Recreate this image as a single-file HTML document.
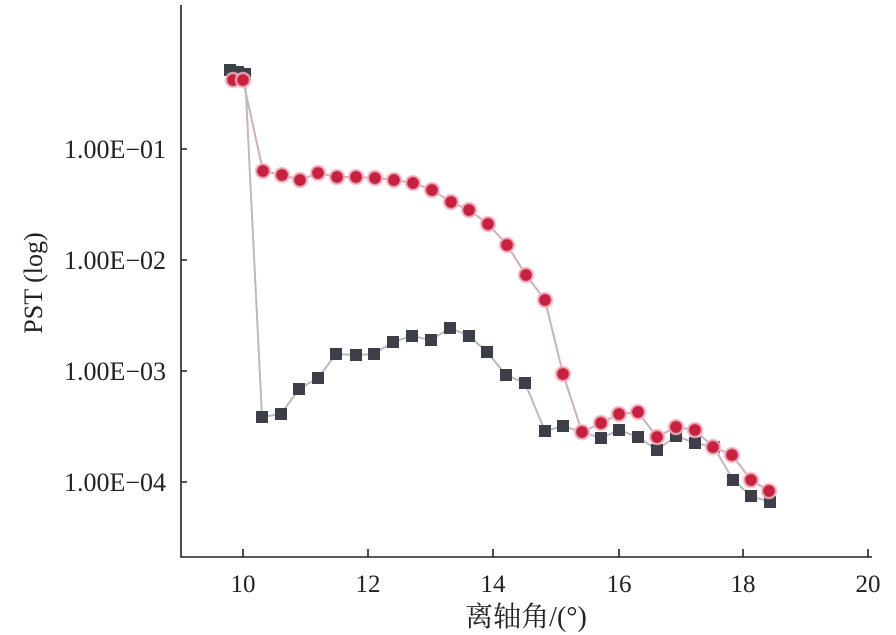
<!DOCTYPE html>
<html><head><meta charset="utf-8"><style>
html,body{margin:0;padding:0;background:#fff;}
svg{display:block;}
text{font-family:"Liberation Serif","Noto Serif CJK SC",serif;fill:#222;}
</style></head><body>
<svg width="896" height="635" viewBox="0 0 896 635" xmlns="http://www.w3.org/2000/svg">
<g stroke="#222" stroke-width="1.6" fill="none">
<path d="M181,5 V557 H872"/>
<path d="M181,149 h6 M181,260 h6 M181,371 h6 M181,482 h6"/>
<path d="M243,557 v-8 M368,557 v-8 M493,557 v-8 M619,557 v-8 M743,557 v-8 M868,557 v-8"/>
</g>
<g font-size="26" text-anchor="end">
<text x="166" y="158">1.00E−01</text>
<text x="166" y="269">1.00E−02</text>
<text x="166" y="380">1.00E−03</text>
<text x="166" y="491">1.00E−04</text>
</g>
<g font-size="25" text-anchor="middle">
<text x="243" y="592">10</text><text x="368" y="592">12</text><text x="493" y="592">14</text>
<text x="619" y="592">16</text><text x="743" y="592">18</text><text x="868" y="592">20</text>
</g>
<text x="526" y="626" font-size="28" text-anchor="middle">离轴角/(°)</text>
<text transform="translate(42,283) rotate(-90)" font-size="26" text-anchor="middle">PST (log)</text>
<polyline fill="none" stroke="#bbb" stroke-width="2" points="230,70 238,72 245,74 262,417 281,414 299,389 318,378 336,354 356,355 374,354 393,342 412,336 431,340 450,328 469,336 487,352 506,375 525,383 545,431 563,426 601,438 619,430 638,437 657,450 676,436 695,443 714,447 733,480 751,496 770,502"/>
<polyline fill="none" stroke="#d0b0b8" stroke-width="2" points="233,80 243,80 263,171 282,175 300,180 318,173 337,177 356,177 375,178 394,180 413,183 432,190 451,202 469,210 488,224 507,245 526,275 545,300 563,374 582,432 601,423 619,414 638,412 657,437 676,427 695,430 713,447 732,455 751,480 769,491"/>
<g fill="#3c3f48">
<rect x="224" y="64" width="12" height="12"/><rect x="232" y="66" width="12" height="12"/><rect x="239" y="68" width="12" height="12"/>
<rect x="256" y="411" width="12" height="12"/><rect x="275" y="408" width="12" height="12"/><rect x="293" y="383" width="12" height="12"/><rect x="312" y="372" width="12" height="12"/><rect x="330" y="348" width="12" height="12"/><rect x="350" y="349" width="12" height="12"/><rect x="368" y="348" width="12" height="12"/><rect x="387" y="336" width="12" height="12"/><rect x="406" y="330" width="12" height="12"/><rect x="425" y="334" width="12" height="12"/><rect x="444" y="322" width="12" height="12"/><rect x="463" y="330" width="12" height="12"/><rect x="481" y="346" width="12" height="12"/><rect x="500" y="369" width="12" height="12"/><rect x="519" y="377" width="12" height="12"/><rect x="539" y="425" width="12" height="12"/><rect x="557" y="420" width="12" height="12"/><rect x="595" y="432" width="12" height="12"/><rect x="613" y="424" width="12" height="12"/><rect x="632" y="431" width="12" height="12"/><rect x="651" y="444" width="12" height="12"/><rect x="670" y="430" width="12" height="12"/><rect x="689" y="437" width="12" height="12"/><rect x="708" y="441" width="12" height="12"/><rect x="727" y="474" width="12" height="12"/><rect x="745" y="490" width="12" height="12"/><rect x="764" y="496" width="12" height="12"/>
</g>
<g fill="#c8203f" stroke="#f2b8c4" stroke-width="2.5" stroke-opacity="0.8">
<circle cx="233" cy="80" r="7"/><circle cx="243" cy="80" r="7"/><circle cx="263" cy="171" r="7"/><circle cx="282" cy="175" r="7"/><circle cx="300" cy="180" r="7"/><circle cx="318" cy="173" r="7"/><circle cx="337" cy="177" r="7"/><circle cx="356" cy="177" r="7"/><circle cx="375" cy="178" r="7"/><circle cx="394" cy="180" r="7"/><circle cx="413" cy="183" r="7"/><circle cx="432" cy="190" r="7"/><circle cx="451" cy="202" r="7"/><circle cx="469" cy="210" r="7"/><circle cx="488" cy="224" r="7"/><circle cx="507" cy="245" r="7"/><circle cx="526" cy="275" r="7"/><circle cx="545" cy="300" r="7"/><circle cx="563" cy="374" r="7"/><circle cx="582" cy="432" r="7"/><circle cx="601" cy="423" r="7"/><circle cx="619" cy="414" r="7"/><circle cx="638" cy="412" r="7"/><circle cx="657" cy="437" r="7"/><circle cx="676" cy="427" r="7"/><circle cx="695" cy="430" r="7"/><circle cx="713" cy="447" r="7"/><circle cx="732" cy="455" r="7"/><circle cx="751" cy="480" r="7"/><circle cx="769" cy="491" r="7"/>
</g>
</svg>
</body></html>
